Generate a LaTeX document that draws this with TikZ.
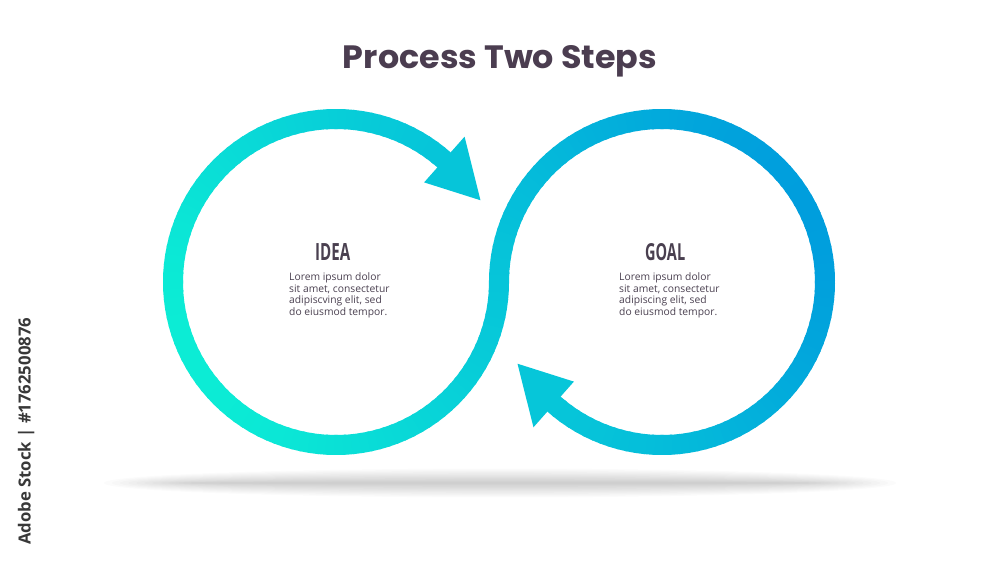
\documentclass[tikz,border=0pt]{standalone}
\usepackage{fontspec}
\usepackage{graphicx}
\usetikzlibrary{calc}
\setmainfont{Open Sans}
\newfontfamily\titlefont{Poppins}
\newfontfamily\headfont{Open Sans}
\definecolor{txt}{HTML}{4A4050}
\definecolor{ttl}{HTML}{4B3D50}
\definecolor{cA}{HTML}{0CEED5}
\definecolor{cB}{HTML}{009CDD}
\definecolor{wmk}{HTML}{383838}
\tikzset{
  ring/.style={line width=20pt, line cap=butt},
  body/.style={anchor=north west, inner sep=0pt, align=left, text=txt,
    font=\fontsize{10.3}{11.67}\selectfont},
  head/.style={anchor=base west, inner sep=0pt, text=txt},
}
\begin{document}
\begin{tikzpicture}[x=1pt,y=1pt]
\fill[white] (0,0) rectangle (1000,563);
\useasboundingbox (0,0) rectangle (1000,563);

% soft shadow
\foreach \i in {1,...,12} {
  \fill[black, opacity=0.014] (500,80) ellipse [x radius={300+8*\i}, y radius={1.2*\i}];
}

\coordinate (cl) at (336,281);
\coordinate (cr) at (662,281);
\def\R{163}

% left ring (gradient by segments)
\foreach \a in {48,51,...,357} {
  \pgfmathsetmacro\mx{336+\R*cos(\a+1.5)}
  \pgfmathsetmacro\my{281+\R*sin(\a+1.5)}
  \pgfmathsetmacro\mixv{max(0,min(100,100*(0.001378*\mx+0.000703*\my-0.385)))}
  \pgfmathsetmacro\sa{\a-0.5}
  \pgfmathsetmacro\ea{\a+3.5}
  \draw[ring, color=cB!\mixv!cA] (cl) ++(\sa:\R) arc[start angle=\sa, end angle=\ea, radius=\R];
}
% right ring
\foreach \a in {180,177,...,-129} {
  \pgfmathsetmacro\mx{662+\R*cos(\a-1.5)}
  \pgfmathsetmacro\my{281+\R*sin(\a-1.5)}
  \pgfmathsetmacro\mixv{max(0,min(100,100*(0.001378*\mx+0.000703*\my-0.385)))}
  \pgfmathsetmacro\sa{\a+0.5}
  \pgfmathsetmacro\ea{\a-3.5}
  \draw[ring, color=cB!\mixv!cA] (cr) ++(\sa:\R) arc[start angle=\sa, end angle=\ea, radius=\R];
}

% arrowheads
\fill[cB!50!cA] ($(cl)+(48.5:194)$) -- ($(cl)+(29.5:166)$) -- ($(cl)+(48.5:133)$) -- cycle;
\fill[cB!49!cA] ($(cr)+(228.5:194)$) -- ($(cr)+(209.5:166)$) -- ($(cr)+(228.5:133)$) -- cycle;

% title
\node[anchor=base, inner sep=0pt, text=ttl] (title) at (500,494)
  {\resizebox{314pt}{23pt}{\titlefont\bfseries Process Two Steps}};

% headings
\node[head] (idea) at (315,303) {\resizebox{35pt}{17pt}{\headfont\bfseries IDEA}};
\node[head] (goal) at (645,303) {\resizebox{40pt}{17pt}{\headfont\bfseries GOAL}};

% body texts
\node[body] (ideatxt) at (289,290.5)
  {Lorem ipsum dolor\\sit amet, consectetur\\adipiscving elit, sed\\do eiusmod tempor.};
\node[body] (goaltxt) at (619,290.5)
  {Lorem ipsum dolor\\sit amet, consectetur\\adipiscing elit, sed\\do eiusmod tempor.};

% side text
\node[rotate=90, anchor=base west, inner sep=0pt, text=wmk] (stock) at (30.5,18)
  {\resizebox{227pt}{!}{\bfseries Adobe Stock | \#1762500876}};
\end{tikzpicture}
\end{document}
